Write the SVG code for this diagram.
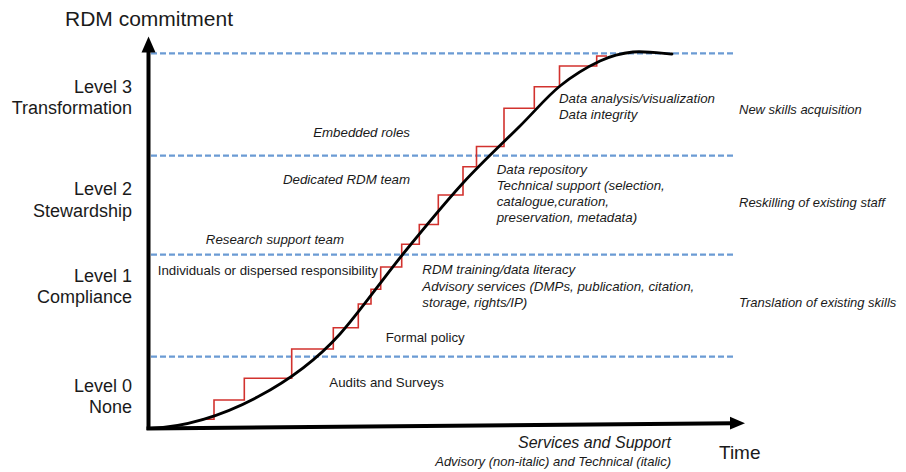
<svg xmlns="http://www.w3.org/2000/svg" width="906" height="472" viewBox="0 0 906 472">
<style>
text{font-family:"Liberation Sans",Arial,sans-serif;fill:#1a1a1a}
.lvl{font-size:18px;text-anchor:end}
.it{font-style:italic;font-size:13.3px}
.rg{font-size:13.3px}
.dash{stroke:#6b9bd4;stroke-width:2.2;stroke-dasharray:6 3;fill:none}
.ax{stroke:#000;stroke-width:4;fill:none}
</style>
<rect width="906" height="472" fill="#fff"/>
<g id="levels">
<line class="dash" x1="151" y1="53.3" x2="735" y2="53.3"/>
<line class="dash" x1="151" y1="155.6" x2="735" y2="155.6"/>
<line class="dash" x1="151" y1="254.6" x2="735" y2="254.6"/>
<line class="dash" x1="151" y1="356.6" x2="735" y2="356.6"/>
</g>
<g id="staircase">
<polyline fill="none" stroke="#d2322e" stroke-width="1.6" points="201.7,419.3 214,419.3 214,400 244.3,400 244.3,378.3 291.7,378.3 291.7,349 333.3,349 333.3,327.7 358.3,327.7 358.3,304 371,304 371,289.3 380.7,289.3 380.7,267 401.7,267 401.7,244.3 419.3,244.3 419.3,224.5 438.3,224.5 438.3,195 463,195 463,166.7 476.5,166.7 476.5,146.5 504,146.5 504,108.3 534.3,108.3 534.3,86.7 559.5,86.7 559.5,66 596.7,66 596.7,56 607,56"/>
</g>
<g id="curve">
<path fill="none" stroke="#000" stroke-width="2.8" stroke-linecap="round" d="M150,428.5 C225,425 299.3,379.1 340,334 C358.5,313.5 382.5,279.2 403,254 C423.5,228.8 443.5,204.3 463,183 C482.5,161.7 503.8,142.2 520,126 C536.2,109.8 546.7,96.8 560,86 C573.3,75.2 587.8,66.7 600,61 C612.2,55.3 621,53.2 633,52 C645,50.8 665.5,53.7 672,54"/>
</g>
<g id="axes">
<line class="ax" x1="148.5" y1="430" x2="148.5" y2="48"/>
<polygon points="141.5,52.5 148.5,36.5 155.5,52.5" fill="#000"/>
<line class="ax" x1="146.5" y1="428.5" x2="733" y2="423.3"/>
<polygon points="730,416.8 745,423.2 730,429.6" fill="#000"/>
</g>
<g id="axis-labels">
<text x="65" y="26" style="font-size:21px">RDM commitment</text>
<text x="719" y="459" style="font-size:19px">Time</text>
<text x="671" y="448" text-anchor="end" style="font-size:16px;font-style:italic">Services and Support</text>
<text x="671" y="465.5" text-anchor="end" style="font-size:13px;font-style:italic">Advisory (non-italic) and Technical (italic)</text>
</g>
<g id="level3">
<text class="lvl" x="132" y="92.5">Level 3</text>
<text class="lvl" x="132" y="114">Transformation</text>
</g>
<g id="level2">
<text class="lvl" x="132" y="195">Level 2</text>
<text class="lvl" x="132" y="216.5">Stewardship</text>
</g>
<g id="level1">
<text class="lvl" x="132" y="281.5">Level 1</text>
<text class="lvl" x="132" y="303">Compliance</text>
</g>
<g id="level0">
<text class="lvl" x="132" y="391.5">Level 0</text>
<text class="lvl" x="132" y="413">None</text>
</g>
<g id="roles">
<text class="it" x="410" y="136.5" text-anchor="end">Embedded roles</text>
<text class="it" x="410" y="184" text-anchor="end">Dedicated RDM team</text>
<text class="it" x="344" y="244.3" text-anchor="end">Research support team</text>
<text class="rg" x="157.7" y="275">Individuals or dispersed responsibility</text>
</g>
<g id="services">
<text class="rg" x="385.7" y="341.7">Formal policy</text>
<text class="rg" x="329.3" y="386.7">Audits and Surveys</text>
<text class="it" x="422.3" y="274">RDM training/data literacy</text>
<text class="it" x="422.3" y="290.5">Advisory services (DMPs, publication, citation,</text>
<text class="it" x="422.3" y="306.5">storage, rights/IP)</text>
<text class="it" x="496.7" y="174">Data repository</text>
<text class="it" x="496.7" y="190">Technical support (selection,</text>
<text class="it" x="496.7" y="206">catalogue,curation,</text>
<text class="it" x="496.7" y="222">preservation, metadata)</text>
<text class="it" x="559" y="103.3">Data analysis/visualization</text>
<text class="it" x="559" y="119.3">Data integrity</text>
</g>
<g id="skills">
<text class="it" x="739" y="114.3" style="font-size:13px">New skills acquisition</text>
<text class="it" x="739" y="206.7" style="font-size:13px">Reskilling of existing staff</text>
<text class="it" x="739" y="306.7" style="font-size:13px">Translation of existing skills</text>
</g>
</svg>
